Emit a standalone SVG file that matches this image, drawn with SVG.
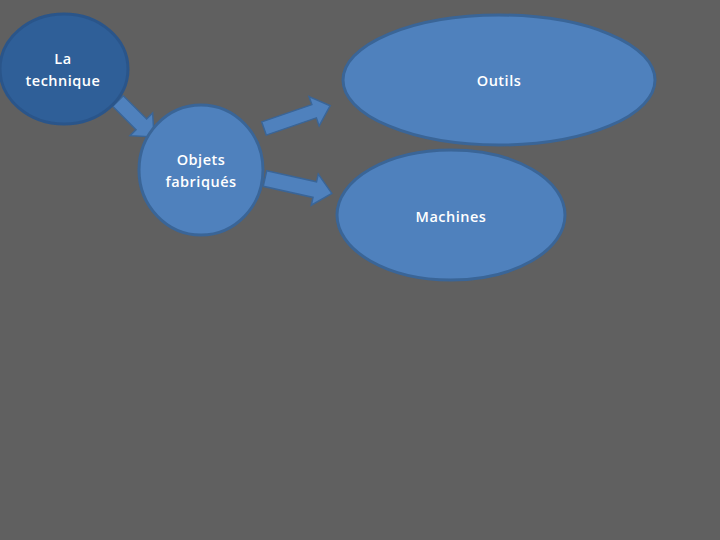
<svg xmlns="http://www.w3.org/2000/svg" width="720" height="540" viewBox="0 0 720 540">
<style>
.bg{fill:#606060}
.n{fill:#4F81BD;stroke:#3A6597;stroke-width:3}
.n0{fill:#2F5F98;stroke:#2A558A;stroke-width:3}
.a{fill:#4F81BD;stroke:#3A6597;stroke-width:1.5;stroke-linejoin:miter}
text{font-family:"Open Sans","Liberation Sans",sans-serif;font-size:14.5px;font-weight:600;fill:#FFFFFF;text-anchor:middle;letter-spacing:0.5px}
</style>
<rect class="bg" x="0" y="0" width="720" height="540"/>
<g id="connectors">
<polygon class="a" transform="translate(118,101) rotate(45)" points="0,-7.5 33,-7.5 33,-16 51,0 33,16 33,7.5 0,7.5"/>
<polygon class="a" transform="translate(264,128.5) rotate(-19)" points="0,-7 53,-7 53,-15.5 70,0 53,15.5 53,7 0,7"/>
<polygon class="a" transform="translate(265,178.5) rotate(12.6)" points="0,-8 51,-8 51,-16 68.5,0 51,16 51,8 0,8"/>
</g>
<g id="la-technique">
<ellipse class="n0" cx="64" cy="69" rx="64" ry="55"/>
<text x="63" y="64">La</text>
<text x="63" y="86">technique</text>
</g>
<g id="objets-fabriques">
<ellipse class="n" cx="201" cy="170" rx="62" ry="65"/>
<text x="201" y="165">Objets</text>
<text x="201" y="187">fabriqués</text>
</g>
<g id="outils">
<ellipse class="n" cx="499" cy="80" rx="156" ry="65"/>
<text x="499" y="86">Outils</text>
</g>
<g id="machines">
<ellipse class="n" cx="451" cy="215" rx="114" ry="65"/>
<text x="451" y="222">Machines</text>
</g>
</svg>
